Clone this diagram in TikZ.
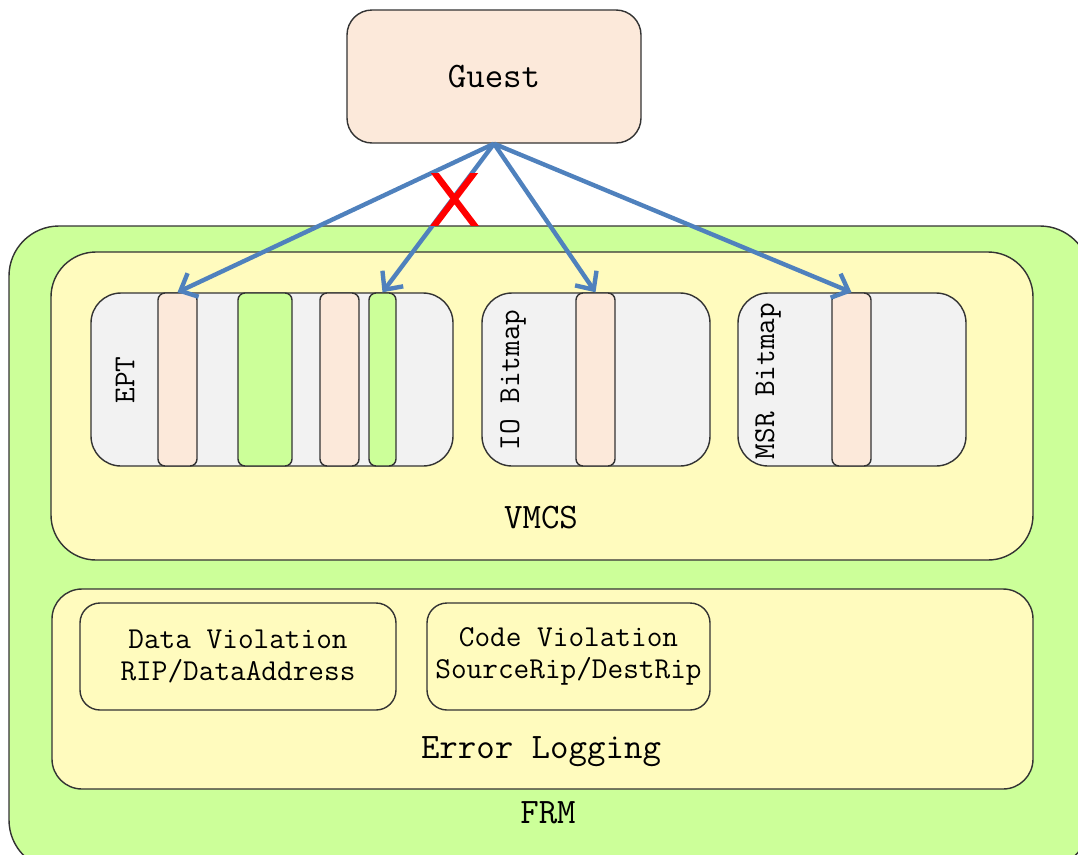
\documentclass[tikz,border=0pt]{standalone}
\usepackage{fontspec}
\usetikzlibrary{arrows.meta}
\definecolor{peach}{RGB}{252,233,218}
\definecolor{lime}{RGB}{204,255,153}
\definecolor{cream}{RGB}{255,251,190}
\definecolor{shade}{RGB}{242,242,242}
\definecolor{linkblue}{RGB}{79,129,189}

\begin{document}
\begin{tikzpicture}[box/.style={draw=black!80, line width=.8pt, rounded corners=#1, inner sep=0pt}, box/.default=.6cm,
  strip/.style={draw=black!80, line width=.8pt, rounded corners=4pt, minimum width=#1, minimum height=3.46cm, inner sep=0pt},
  big/.style={font=\ttfamily\fontsize{20.4}{22}\selectfont},
  small/.style={font=\ttfamily\fontsize{17.3}{18.4}\selectfont, align=center},
  link/.style={->, draw=linkblue, line width=2.5pt}, >={Straight Barb[length=2.8mm,width=5.2mm]}]
\useasboundingbox (0,0) rectangle (21.56,-17.08);
\clip (0,0) rectangle (21.56,-17.08);
\node[box=.5cm, fill=peach, minimum width=5.88cm, minimum height=2.66cm] (guest) at (9.88,-1.53) {};
\node[big] at (guest) {Guest};
\node[box=1cm, fill=lime, minimum width=21.62cm, minimum height=12.88cm] (frm) at (10.99,-10.96) {};
\node[big] (frmlabel) at (10.96,-16.26) {FRM};
\node[box=.9cm, fill=cream, minimum width=19.64cm, minimum height=6.16cm] (vmcs) at (10.84,-8.12) {};
\node[big] (vmcslabel) at (10.82,-10.36) {VMCS};
\node[box=.6cm, fill=cream, minimum width=19.62cm, minimum height=4cm] (errlog) at (10.85,-13.78) {};
\node[big] (errloglabel) at (10.82,-15.04) {Error Logging};
\node[box=.6cm, fill=shade, minimum width=7.24cm, minimum height=3.46cm] (ept) at (5.44,-7.59) {};
\node[box=.6cm, fill=shade, minimum width=4.56cm, minimum height=3.46cm] (io) at (11.92,-7.59) {};
\node[box=.6cm, fill=shade, minimum width=4.56cm, minimum height=3.46cm] (msr) at (17.04,-7.59) {};
\node[strip=.78cm, fill=peach] (e1) at (3.55,-7.59) {};
\node[strip=1.08cm, fill=lime] (e2) at (5.30,-7.59) {};
\node[strip=.78cm, fill=peach] (e3) at (6.79,-7.59) {};
\node[strip=.54cm, fill=lime] (e4) at (7.65,-7.59) {};
\node[strip=.78cm, fill=peach] (i1) at (11.91,-7.59) {};
\node[strip=.78cm, fill=peach] (m1) at (17.03,-7.59) {};
\node[small, rotate=90] (eptlabel) at (2.5,-7.6) {EPT};
\node[small, rotate=90] (iolabel) at (10.26,-7.6) {IO Bitmap};
\node[small, rotate=90] (msrlabel) at (15.36,-7.62) {MSR Bitmap};
\node[box=.4cm, fill=cream, minimum width=6.32cm, minimum height=2.14cm] (data) at (4.76,-13.13) {};
\node[small] at (data) {Data Violation\\RIP/DataAddress};
\node[box=.4cm, fill=cream, minimum width=5.66cm, minimum height=2.14cm] (code) at (11.37,-13.13) {};
\node[small] at (code) {Code Violation\\SourceRip/DestRip};
\draw[link] (guest.south) -- (e1.north);
\draw[link] (guest.south) -- (e4.north);
\draw[link] (guest.south) -- (i1.north);
\draw[link] (guest.south) -- (m1.north);
% blocked path
\begin{scope}
\clip (8.5,-3.46) rectangle (9.7,-4.5);
\draw[red, line width=3.6pt] (8.62,-3.36) -- (9.56,-4.6) (9.56,-3.36) -- (8.62,-4.6);
\end{scope}
\end{tikzpicture}
\end{document}
